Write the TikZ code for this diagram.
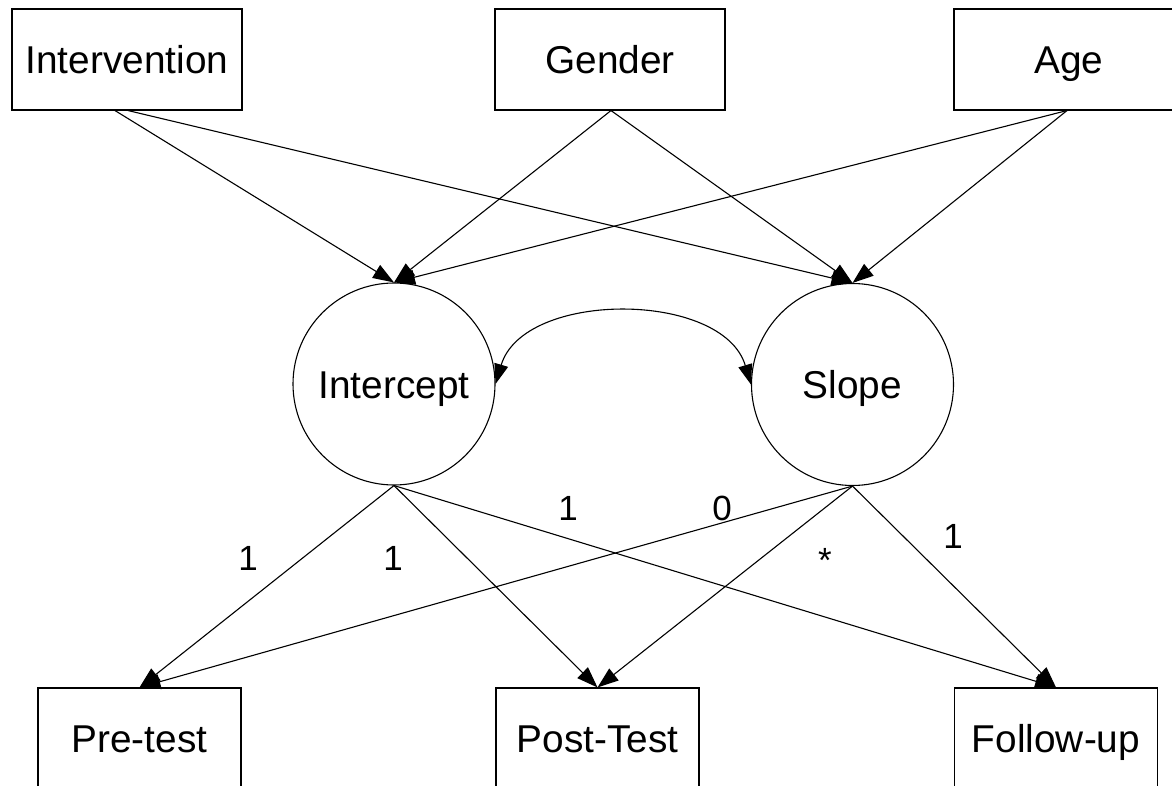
\documentclass[tikz,border=0pt]{standalone}
\usepackage{fontspec}
\setmainfont{Liberation Sans}
\usetikzlibrary{arrows.meta}
\begin{document}
\begin{tikzpicture}[x=1pt,y=-1pt,
  every node/.style={font=\fontsize{38.8}{46}\selectfont},
  box/.style={draw, line width=1.1pt, minimum width=230pt, minimum height=101pt, inner sep=0pt, text height=28pt, text depth=0pt},
  obox/.style={box, minimum width=203pt},
  latent/.style={draw, circle, line width=1.1pt, minimum size=202pt, inner sep=0pt, text height=28pt, text depth=0pt},
  arr/.style={line width=1.1pt, -{Triangle[length=21pt,width=15pt]}},
  darr/.style={line width=1.1pt, {Triangle[length=20pt,width=14pt]}-{Triangle[length=20pt,width=14pt]}},
  lbl/.style={anchor=base, inner sep=0pt, font=\fontsize{35}{40}\selectfont}
]
\useasboundingbox (0,0) rectangle (1172,786);
\fill[white] (0,0) rectangle (1172,786);
\clip (0,0) rectangle (1172,786);

\node[box] (int) at (127,59.5) {Intervention};
\node[box] (gen) at (610,59.5) {Gender};
\node[box] (age) at (1069,59.5) {Age};

\node[latent] (icpt) at (394,384) {Intercept};
\node[latent] (slope) at (852.5,384.5) {Slope};

\node[obox] (pre) at (139.5,738.5) {Pre-test};
\node[obox] (post) at (597.5,738.5) {Post-Test};
\node[obox] (fol) at (1056,738.5) {Follow-up};

% covariates -> growth factors
\draw[arr] ([xshift=-12pt]int.south) -- (icpt.north);
\draw[arr] ([xshift=1pt]int.south) -- (slope.north);
\draw[arr] ([xshift=1pt]gen.south) -- (icpt.north);
\draw[arr] ([xshift=1pt]gen.south) -- (slope.north);
\draw[arr] ([xshift=-2pt]age.south) -- (icpt.north);
\draw[arr] ([xshift=-2pt]age.south) -- (slope.north);

% covariance
\draw[darr] (icpt.east) .. controls +(28,-94) and +(-28,-94) .. (slope.west);

% loadings
\draw[arr] (icpt.south) -- (pre.north);
\draw[arr] (icpt.south) -- (post.north);
\draw[arr] (icpt.south) -- (fol.north);
\draw[arr] (slope.south) -- (pre.north);
\draw[arr] (slope.south) -- (post.north);
\draw[arr] (slope.south) -- (fol.north);

\node[lbl] (l1) at (248,570) {1};
\node[lbl] (l2) at (393,570) {1};
\node[lbl] (l3) at (568,520) {1};
\node[lbl] (l4) at (722,520) {0};
\node[lbl] (l5) at (825,572) {*};
\node[lbl] (l6) at (953,548) {1};
\end{tikzpicture}
\end{document}
